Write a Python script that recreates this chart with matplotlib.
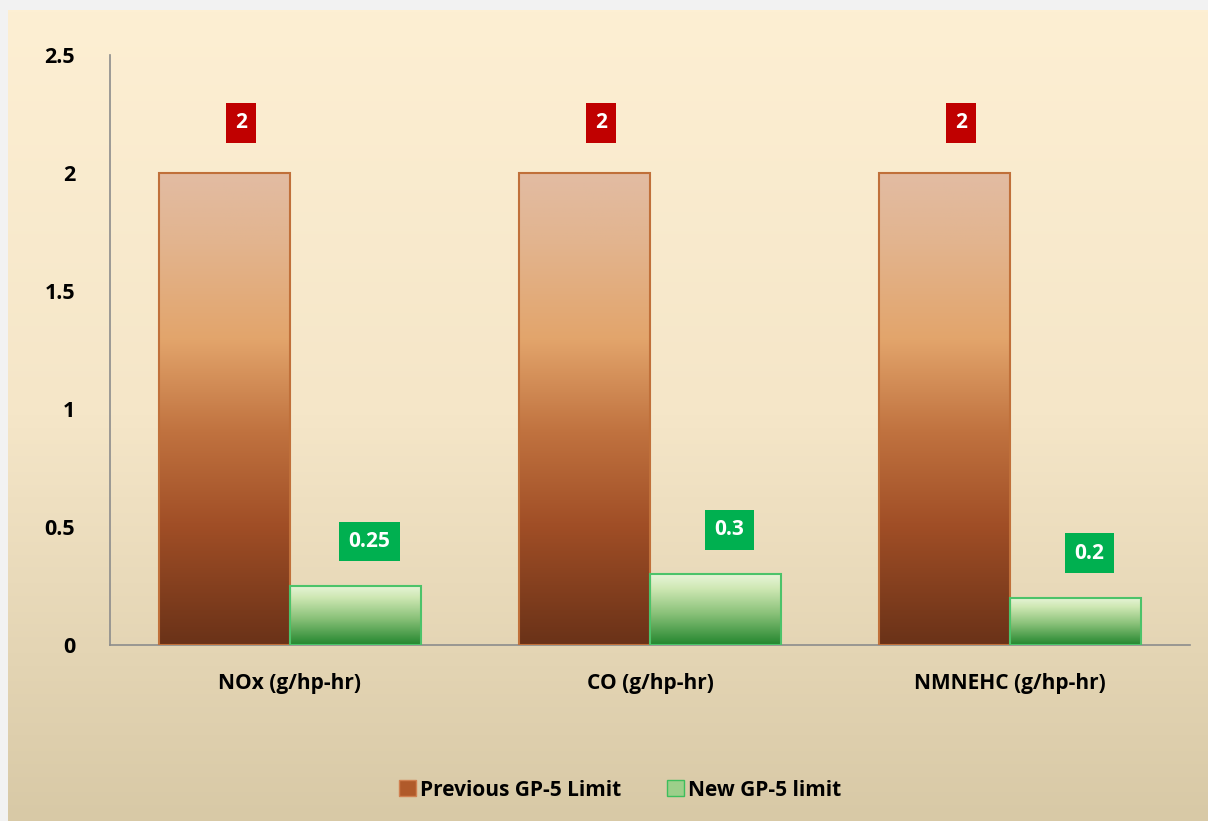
import numpy as np
import matplotlib
matplotlib.use('Agg')
import matplotlib.pyplot as plt
from matplotlib.colors import LinearSegmentedColormap
from matplotlib.patches import Patch

# Data
categories = ['NOx (g/hp-hr)', 'CO (g/hp-hr)', 'NMNEHC (g/hp-hr)']
previous_limit = [2, 2, 2]
new_limit = [0.25, 0.3, 0.2]
series_names = ['Previous GP-5 Limit', 'New GP-5 limit']
y_ticks = [0, 0.5, 1, 1.5, 2, 2.5]

plt.rcParams['font.family'] = ['Open Sans', 'DejaVu Sans']

fig = plt.figure(figsize=(12.08, 8.21), dpi=100)
fig.patch.set_facecolor('#F2F2F2')

# Background gradient panel
bg_ax = fig.add_axes([8 / 1208, 0, 1, 811 / 821], zorder=0)
bg_cmap = LinearSegmentedColormap.from_list('bg', ['#FDEFD3', '#F5E6C8', '#D8C9A6'])
bg_ax.imshow(np.linspace(0, 1, 256).reshape(-1, 1), aspect='auto', cmap=bg_cmap,
             extent=[0, 1, 0, 1])
bg_ax.set_axis_off()

ax = fig.add_axes([110 / 1208, 176 / 821, 1080 / 1208, 590 / 821], zorder=1)
ax.patch.set_visible(False)

brown_cmap = LinearSegmentedColormap.from_list(
    'brown', [(0, '#6A3218'), (0.25, '#A04E26'), (0.45, '#C0723F'),
              (0.65, '#E3A56C'), (0.85, '#E2B48E'), (1, '#E2BCA3')])
green_cmap = LinearSegmentedColormap.from_list(
    'green', [(0, '#23862E'), (0.45, '#8BC27A'), (0.8, '#CFE8B4'), (1, '#E8F5DA')])

x = np.arange(len(categories))
w = 0.364
grad = np.linspace(0, 1, 256).reshape(-1, 1)

def grad_bars(xs, vals, cmap, edge):
    for xc, v in zip(xs, vals):
        ax.imshow(grad, aspect='auto', cmap=cmap, origin='lower',
                  extent=[xc - w / 2, xc + w / 2, 0, v], zorder=2)
        ax.bar(xc, v, w, facecolor='none', edgecolor=edge, linewidth=1.5, zorder=3)

grad_bars(x - w / 2, previous_limit, brown_cmap, '#C0703A')
grad_bars(x + w / 2, new_limit, green_cmap, '#4CC36A')

# Data labels
for xc, v in zip(x - w / 2, previous_limit):
    ax.annotate(f'{v:g}', (xc, v), xytext=(12, 36), textcoords='offset points',
                ha='center', va='center', color='white', fontsize=15, fontweight='bold',
                bbox=dict(boxstyle='square,pad=0.45', fc='#C00000', ec='none'), zorder=4)
for xc, v in zip(x + w / 2, new_limit):
    ax.annotate(f'{v:g}', (xc, v), xytext=(10, 32), textcoords='offset points',
                ha='center', va='center', color='white', fontsize=15, fontweight='bold',
                bbox=dict(boxstyle='square,pad=0.45', fc='#00B050', ec='none'), zorder=4)

ax.set_xlim(-0.5, len(categories) - 0.5)
ax.set_ylim(0, 2.5)
ax.set_yticks(y_ticks)
ax.set_yticklabels([f'{t:g}' for t in y_ticks], fontsize=15.5, fontweight='bold')
ax.set_xticks(x)
ax.set_xticklabels(categories, fontsize=15, fontweight='bold')
ax.tick_params(axis='y', length=0, pad=25)
ax.tick_params(axis='x', length=0, pad=20)

for s in ['top', 'right']:
    ax.spines[s].set_visible(False)
for s in ['left', 'bottom']:
    ax.spines[s].set_color('#8C8C8C')
    ax.spines[s].set_linewidth(1.2)

handles = [Patch(facecolor='#B05A2A', edgecolor='#D08050'),
           Patch(facecolor='#9CCF8A', edgecolor='#3DBE5C')]
fig.legend(handles, series_names, loc='center', bbox_to_anchor=(620 / 1208, 1 - 790 / 821),
           ncol=2, frameon=False, prop={'weight': 'bold', 'size': 15},
           handlelength=0.8, handleheight=0.8, handletextpad=0.2, columnspacing=2.2)

fig.savefig('out.png', dpi=100)
